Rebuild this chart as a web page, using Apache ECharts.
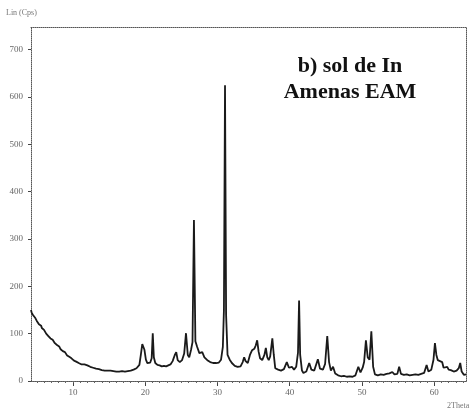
<!DOCTYPE html>
<html>
<head>
<meta charset="utf-8">
<script src="https://cdn.jsdelivr.net/npm/echarts@6/dist/echarts.min.js"></script>
<style>
html,body{margin:0;padding:0;background:#fff;}
#chart{width:473px;height:416px;}
</style>
</head>
<body>
<div id="chart"></div>
<script>
// 2-Theta (degrees) and intensity (Lin counts)
var twoTheta = [4.2,4.3,4.4,4.5,4.6,4.7,4.8,4.9,5.0,5.1,5.2,5.3,5.4,5.5,5.6,5.7,5.8,5.9,6.0,6.1,6.2,6.3,6.4,6.5,6.6,6.7,6.8,6.9,7.0,7.1,7.2,7.3,7.4,7.5,7.6,7.7,7.8,7.9,8.0,8.1,8.2,8.3,8.4,8.5,8.6,8.7,8.8,8.9,9.0,9.1,9.2,9.3,9.4,9.5,9.6,9.7,9.8,9.9,10.0,10.15,10.3,10.45,10.6,10.8,11.0,11.2,11.4,11.6,11.8,12.0,12.2,12.4,12.6,12.8,13.0,13.2,13.4,13.6,13.8,14.0,14.2,14.4,14.6,14.8,15.0,15.2,15.4,15.6,15.8,16.0,16.2,16.4,16.6,16.8,17.0,17.2,17.4,17.6,17.8,18.0,18.2,18.4,18.6,18.8,19.0,19.2,19.4,19.6,19.75,19.9,20.1,20.3,20.5,20.7,20.9,21.05,21.2,21.4,21.7,22.0,22.3,22.6,22.9,23.2,23.5,23.8,24.1,24.3,24.5,24.8,25.1,25.4,25.65,25.9,26.1,26.35,26.55,26.75,26.95,27.2,27.5,27.9,28.2,28.6,29.0,29.4,29.8,30.2,30.5,30.75,30.9,31.05,31.2,31.4,31.7,32.0,32.4,32.8,33.2,33.5,33.7,33.9,34.2,34.5,34.8,35.1,35.3,35.5,35.7,35.9,36.2,36.5,36.7,36.9,37.1,37.3,37.6,37.8,38.0,38.4,38.8,39.2,39.6,39.9,40.3,40.6,40.9,41.15,41.3,41.45,41.7,41.9,42.3,42.7,43.0,43.4,43.9,44.2,44.6,44.9,45.2,45.45,45.7,46.0,46.3,46.7,47.1,47.5,47.9,48.3,48.7,49.1,49.5,49.8,50.1,50.3,50.55,50.8,51.05,51.3,51.55,51.8,52.2,52.6,53.0,53.4,53.8,54.2,54.5,54.9,55.15,55.4,55.8,56.2,56.6,57.0,57.4,57.8,58.2,58.6,58.95,59.2,59.6,59.9,60.1,60.3,60.5,60.8,61.1,61.3,61.5,61.8,62.0,62.3,62.7,63.1,63.4,63.6,63.8,64.1,64.4];
var counts = [150,144,146,139,137,140,133,135,127,129,124,120,118,121,117,112,111,113,108,110,104,100,102,98,95,97,93,90,91,86,87,84,85,80,79,81,76,77,72,73,70,67,68,64,63,65,60,61,57,58,54,56,52,51,50,47,48,45,46,43,42,41,39,38,37,35,34,35,32,33,31,30,30,28,28,26,27,25,25,23,24,22,23,22,21,22,20,21,19,20,19,20,20,21,21,20,22,21,23,22,24,24,26,27,28,34,55,78,82,66,45,38,36,39,48,101,50,38,34,33,31,32,31,33,35,42,55,61,44,40,44,58,101,55,50,66,82,340,84,72,59,61,50,44,40,38,38,39,45,72,150,625,140,55,45,38,32,30,31,40,50,42,38,55,65,68,75,86,62,48,44,55,70,50,44,52,90,55,27,24,22,25,40,28,30,24,30,60,170,55,22,17,20,38,24,22,46,26,24,36,95,40,22,30,16,12,10,11,9,10,9,12,30,18,28,40,86,50,45,105,30,14,12,14,13,15,16,19,14,15,30,15,13,14,12,13,14,13,15,17,34,20,24,45,80,55,44,42,40,28,27,30,24,23,20,22,27,38,20,13,14];
var xTickLabels = [10,20,30,40,50,60];
var xMinorTicks = [5,6,7,8,9,10,11,12,13,14,15,16,17,18,19,20,21,22,23,24,25,26,27,28,29,30,31,32,33,34,35,36,37,38,39,40,41,42,43,44,45,46,47,48,49,50,51,52,53,54,55,56,57,58,59,60,61,62,63,64];
var yTickLabels = [0,100,200,300,400,500,600,700];
var titleLines = ['b) sol de In','Amenas EAM'];
var yAxisName = 'Lin (Cps)';
var xAxisName = '2Theta';

var data = twoTheta.map(function(t,i){return [t,counts[i]];});
var axisFont = {color:'#666', fontFamily:'Liberation Serif', fontSize:9};
var dotted = {show:true, lineStyle:{color:'#555', type:'dotted', width:1}};

var chart = echarts.init(document.getElementById('chart'), null, {renderer:'canvas'});
chart.setOption({
  backgroundColor:'#ffffff',
  animation:false,
  grid:{left:31, right:7, top:27, bottom:35},
  xAxis:[
    {type:'value', min:4.2, max:64.4, position:'bottom',
     axisLine:dotted, splitLine:{show:false},
     axisTick:{show:true, length:5, customValues:xTickLabels, lineStyle:{color:'#444'}},
     axisLabel:Object.assign({customValues:xTickLabels, margin:7}, axisFont)},
    {type:'value', min:4.2, max:64.4, position:'bottom',
     axisLine:dotted, splitLine:{show:false},
     axisTick:{show:true, length:2, customValues:xMinorTicks, lineStyle:{color:'#666'}},
     axisLabel:{show:false}},
    {type:'value', min:4.2, max:64.4, position:'top',
     axisLine:dotted, splitLine:{show:false}, axisTick:{show:false}, axisLabel:{show:false}}
  ],
  yAxis:[
    {type:'value', min:0, max:748, position:'left',
     axisLine:dotted, splitLine:{show:false},
     axisTick:{show:true, length:3, customValues:yTickLabels, lineStyle:{color:'#444'}},
     axisLabel:Object.assign({customValues:yTickLabels, margin:8}, axisFont)},
    {type:'value', min:0, max:748, position:'right',
     axisLine:dotted, splitLine:{show:false}, axisTick:{show:false}, axisLabel:{show:false}}
  ],
  series:[{
    type:'line', data:data, xAxisIndex:0, yAxisIndex:0,
    showSymbol:false, symbol:'none',
    lineStyle:{color:'#1a1a1a', width:1.8}
  }],
  graphic:[
    {type:'text', x:350, y:53, style:{text:titleLines.join('\n'), textAlign:'center', fill:'#111',
      font:'bold 22px "Liberation Serif"', lineHeight:26}},
    {type:'text', x:6, y:9, style:{text:yAxisName, fill:'#777', font:'8px "Liberation Serif"'}},
    {type:'text', x:447, y:402, style:{text:xAxisName, fill:'#777', font:'8px "Liberation Serif"'}}
  ]
});
</script>
</body>
</html>
